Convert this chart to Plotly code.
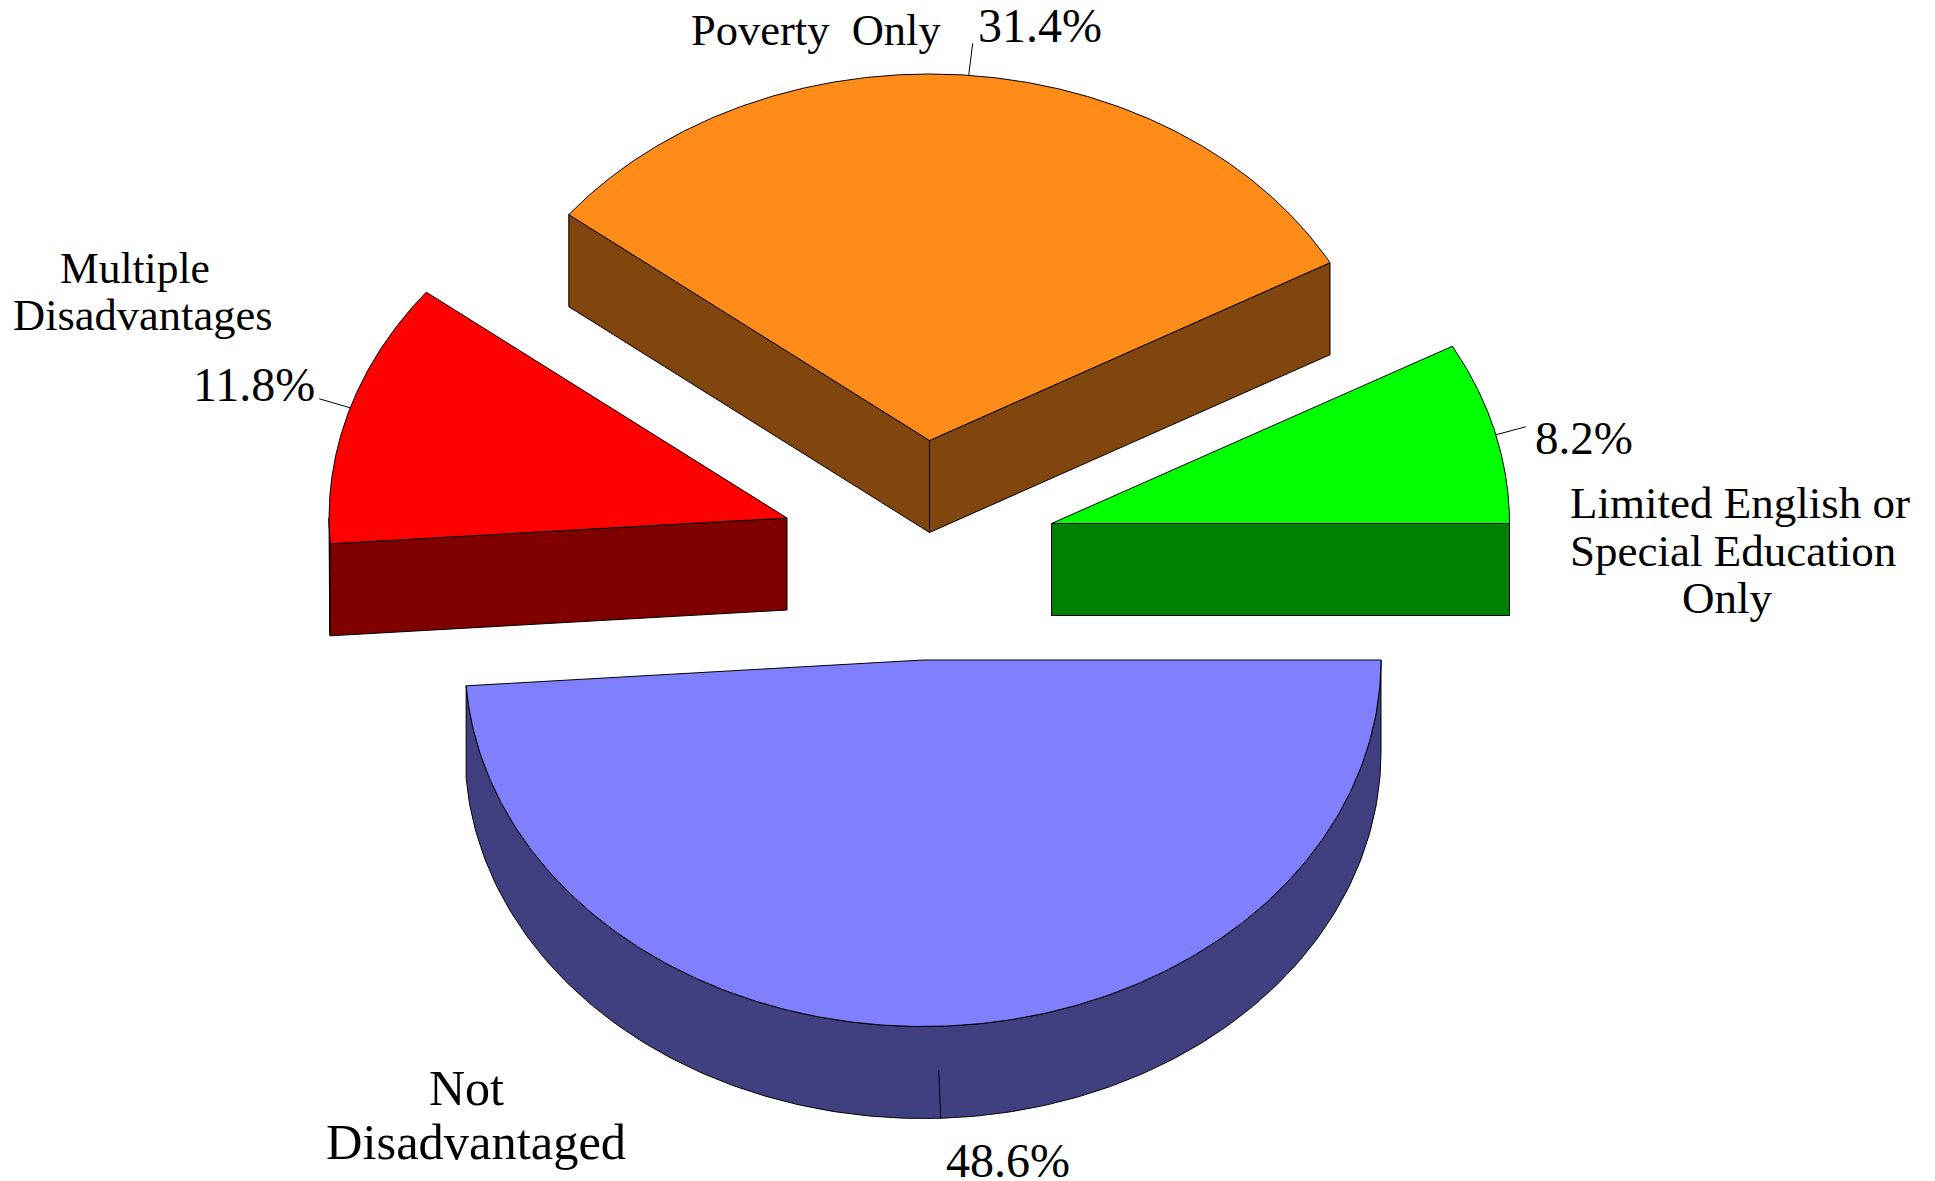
import numpy as np
import plotly.graph_objects as go

# data, in drawing order of the pie (clockwise from 3 o'clock)
categories = ["Not Disadvantaged", "Multiple Disadvantages", "Poverty Only", "Limited English or Special Education Only"]
shares = [48.6, 11.8, 31.4, 8.2]
top_colors = ["#8080FF", "#FF0000", "#FF8C19", "#00FF00"]
side_colors = ["#404080", "#800000", "#80460D", "#008000"]

# layout of the exploded slices (page pixels)
RX, RY, DEPTH = 458.0, 366.5, 92.0
centers = [(923, 660), (787, 518), (929.5, 440.5), (1051.5, 523.5)]
edge_nudge = [0.0, 1.0, 0.6, 0.5, 0.0]  # degrees of projection skew at each slice boundary
leader_turn = [-0.2, 0.5, 0.4, 0.5]
leader_vec = [(-2, -48), (-31, -9), (4, -32), (30, -8)]

FONT = "Liberation Serif"
# text, centre x, baseline y, font size
labels = [
    ("Poverty  Only", 816, 44.5, 44.5),
    ("31.4%", 1040, 41, 48),
    ("Multiple", 135, 282, 43.5),
    ("Disadvantages", 143, 330, 44.5),
    ("11.8%", 254, 400, 48),
    ("8.2%", 1584, 454, 47),
    ("Limited English or", 1740, 517.5, 45),
    ("Special Education", 1733, 565.5, 45),
    ("Only", 1727, 612.5, 45),
    ("Not", 466, 1104.5, 50),
    ("Disadvantaged", 476, 1159, 50.5),
    ("48.6%", 1008, 1176, 48),
]


def ell(c, t_deg, dy=0.0):
    t = np.radians(t_deg)
    return c[0] + RX * np.cos(t), c[1] + RY * np.sin(t) + dy


fig = go.Figure()


def poly(xs, ys, color):
    fig.add_trace(go.Scatter(
        x=list(xs), y=list(ys), mode="lines", fill="toself", fillcolor=color,
        line=dict(color="black", width=1), hoverinfo="skip", showlegend=False,
    ))


edges = np.concatenate([[0.0], np.cumsum(shares)]) * 3.6 + np.array(edge_nudge)
for i, share in enumerate(shares):
    t0, t1 = edges[i], edges[i + 1]
    c = centers[i]
    side = side_colors[i]
    # radial walls that face the viewer
    for t, visible in ((t0, np.cos(np.radians(t0)) < 0), (t1, np.cos(np.radians(t1)) > 0)):
        if visible:
            ex, ey = ell(c, t)
            poly([c[0], ex, ex, c[0], c[0]], [c[1], ey, ey + DEPTH, c[1] + DEPTH, c[1]], side)
    # rim wall: only the front half of the ellipse is visible
    a0, a1 = max(t0, 0), min(t1, 180)
    if a1 > a0:
        ts = np.linspace(a0, a1, 200)
        xu, yu = ell(c, ts)
        poly(np.r_[xu, xu[::-1], xu[0]], np.r_[yu, yu[::-1] + DEPTH, yu[0]], side)
    # top face
    ts = np.linspace(t0, t1, 300)
    xu, yu = ell(c, ts)
    poly(np.r_[c[0], xu, c[0]], np.r_[c[1], yu, c[1]], top_colors[i])
    # leader line
    mid = (t0 + t1) / 2 + leader_turn[i]
    dy = DEPTH if 0 < mid < 180 else 0
    lx, ly = ell(c, mid, dy)
    fig.add_trace(go.Scatter(
        x=[lx, lx + leader_vec[i][0]], y=[ly, ly + leader_vec[i][1]], mode="lines",
        line=dict(color="black", width=1), hoverinfo="skip", showlegend=False,
    ))

for text, x, base, size in labels:
    fig.add_annotation(
        x=x, y=base - 0.33 * size, text=text, showarrow=False, xanchor="center", yanchor="middle",
        font=dict(family=FONT, size=size, color="black"), align="center",
    )

fig.update_layout(
    width=1935, height=1181, margin=dict(l=0, r=0, t=0, b=0),
    paper_bgcolor="white", plot_bgcolor="white", showlegend=False,
    xaxis=dict(range=[0, 1935], visible=False, fixedrange=True),
    yaxis=dict(range=[1181, 0], visible=False, fixedrange=True),
)
fig.write_html("out.html", config=dict(displayModeBar=False),
               post_script="document.body.style.margin='0';document.body.style.overflow='hidden';")
